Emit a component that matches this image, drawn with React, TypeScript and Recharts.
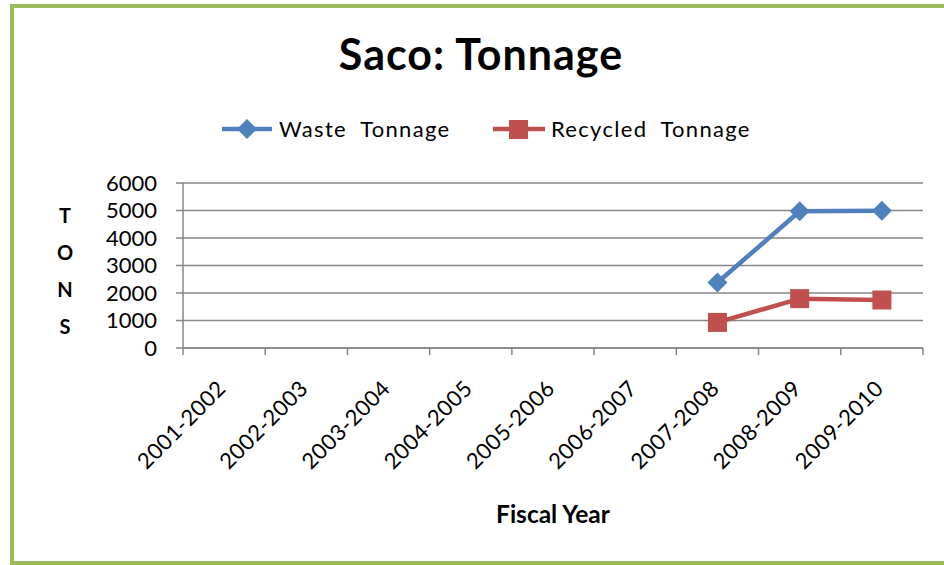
import React from "react";
import {
  LineChart,
  Line,
  XAxis,
  YAxis,
  CartesianGrid,
} from "recharts";

const categories = [
  "2001-2002",
  "2002-2003",
  "2003-2004",
  "2004-2005",
  "2005-2006",
  "2006-2007",
  "2007-2008",
  "2008-2009",
  "2009-2010",
];
const wasteTonnage: (number | null)[] = [null, null, null, null, null, null, 2380, 4970, 4990];
const recycledTonnage: (number | null)[] = [null, null, null, null, null, null, 930, 1795, 1745];
const yTicks = [0, 1000, 2000, 3000, 4000, 5000, 6000];

const BLUE = "#4F81BD";
const RED = "#C0504D";
const AXIS = "#868686";
const FONT = "Lato, 'Open Sans', sans-serif";

// categories sit at half steps, boundaries at whole steps (Excel style ticks between)
const data = categories.map((c, i) => ({
  x: i + 0.5,
  name: c,
  waste: wasteTonnage[i],
  recycled: recycledTonnage[i],
}));
const xTicks: number[] = [];
for (let i = 0; i <= categories.length; i++) {
  xTicks.push(i);
  if (i < categories.length) xTicks.push(i + 0.5);
}

function XTick(props: any) {
  const { x, y, payload } = props;
  const v = payload.value as number;
  if (Number.isInteger(v)) {
    return <line x1={x} x2={x} y1={y} y2={y + 7} stroke={AXIS} strokeWidth={1.5} />;
  }
  const label = categories[Math.floor(v)];
  const ax = x + 3;
  const ay = y + 42;
  return (
    <text
      x={ax}
      y={ay}
      transform={`rotate(-45 ${ax} ${ay})`}
      textAnchor="end"
      fontSize={22}
      letterSpacing={0.4}
      fontFamily={FONT}
      fill="#000"
    >
      {label}
    </text>
  );
}

function Diamond(props: any) {
  const { cx, cy, value } = props;
  if (value == null || cx == null || cy == null) return <g />;
  const r = 10;
  return (
    <path
      d={`M${cx},${cy - r}L${cx + r},${cy}L${cx},${cy + r}L${cx - r},${cy}Z`}
      fill={BLUE}
    />
  );
}

function Square(props: any) {
  const { cx, cy, value } = props;
  if (value == null || cx == null || cy == null) return <g />;
  const s = 19;
  return <rect x={cx - s / 2} y={cy - s / 2} width={s} height={s} fill={RED} />;
}

const abs = (o: React.CSSProperties): React.CSSProperties => ({ position: "absolute", ...o });

export default function App() {
  return (
    <div
      style={{
        position: "fixed",
        left: 0,
        top: 0,
        width: 944,
        height: 565,
        background: "#fff",
        overflow: "hidden",
        fontFamily: FONT,
      }}
    >
      <LineChart
        width={944}
        height={565}
        data={data}
        margin={{ top: 183, right: 21, bottom: 0, left: 0 }}
        style={{ position: "absolute", left: 0, top: 0 }}
      >
        <CartesianGrid horizontal vertical={false} stroke={AXIS} strokeWidth={1.5} />
        <XAxis
          dataKey="x"
          type="number"
          domain={[0, categories.length]}
          ticks={xTicks}
          interval={0}
          height={217}
          tickLine={false}
          tickSize={0}
          tickMargin={0}
          axisLine={{ stroke: AXIS, strokeWidth: 1.5 }}
          tick={<XTick />}
        />
        <YAxis
          type="number"
          domain={[0, 6000]}
          ticks={yTicks}
          interval={0}
          width={183}
          tickSize={7}
          tickMargin={19}
          axisLine={{ stroke: AXIS, strokeWidth: 1.5 }}
          tickLine={{ stroke: AXIS, strokeWidth: 1.5 }}
          tick={{ fontSize: 22, fill: "#000", fontFamily: FONT }}
        />
        <Line
          dataKey="waste"
          stroke={BLUE}
          strokeWidth={4.5}
          dot={<Diamond />}
          activeDot={false}
          connectNulls={false}
          isAnimationActive={false}
        />
        <Line
          dataKey="recycled"
          stroke={RED}
          strokeWidth={4.5}
          dot={<Square />}
          activeDot={false}
          connectNulls={false}
          isAnimationActive={false}
        />
      </LineChart>

      {/* title */}
      <div
        style={abs({
          left: 0,
          top: 32,
          width: 962,
          textAlign: "center",
          fontSize: 43,
          lineHeight: "43px",
          letterSpacing: 1,
          fontWeight: 700,
        })}
      >
        Saco: Tonnage
      </div>

      {/* legend */}
      <svg style={abs({ left: 0, top: 115 })} width={944} height={30}>
        <line x1={222} x2={272} y1={14} y2={14} stroke={BLUE} strokeWidth={4.5} />
        <path d="M247,4L257,14L247,24L237,14Z" fill={BLUE} />
        <text x={279} y={22} fontSize={22} letterSpacing={1.3} fontFamily={FONT} fill="#000" style={{ whiteSpace: "pre" }}>
          Waste  Tonnage
        </text>
        <line x1={493} x2={545} y1={14} y2={14} stroke={RED} strokeWidth={4.5} />
        <rect x={509} y={5} width={19} height={19} fill={RED} />
        <text x={551} y={22} fontSize={22} letterSpacing={1.3} fontFamily={FONT} fill="#000" style={{ whiteSpace: "pre" }}>
          Recycled  Tonnage
        </text>
      </svg>

      {/* vertical axis title, stacked letters */}
      {["T", "O", "N", "S"].map((ch, i) => (
        <div
          key={ch}
          style={abs({ left: 45, width: 40, top: 203 + i * 37, textAlign: "center", fontSize: 20, fontWeight: 700, lineHeight: "24px" })}
        >
          {ch}
        </div>
      ))}

      {/* horizontal axis title */}
      <div
        style={abs({
          left: 353,
          width: 400,
          top: 502,
          textAlign: "center",
          fontSize: 24.5,
          fontWeight: 700,
          lineHeight: "24.5px",
        })}
      >
        Fiscal Year
      </div>

      <div
        style={abs({
          left: 10,
          top: 4,
          width: 940,
          height: 561,
          border: "4px solid #9BBB59",
          boxSizing: "border-box",
        })}
      />
    </div>
  );
}
